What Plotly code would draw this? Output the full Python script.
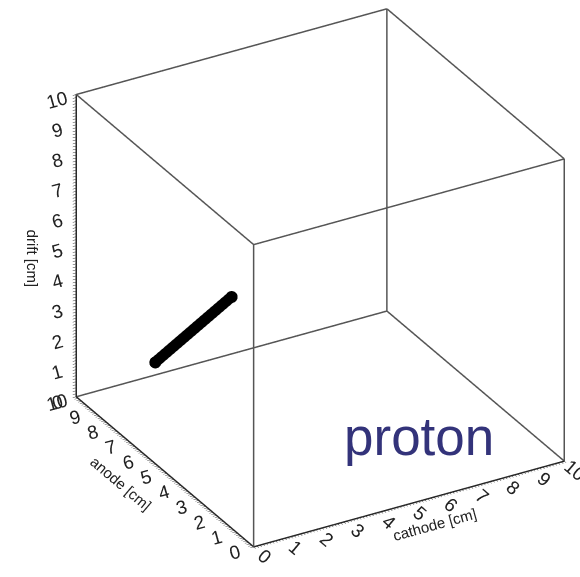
import plotly.graph_objects as go

# data
cathode_range = [0, 10]
anode_range = [0, 10]
drift_range = [0, 10]
track_cathode = [1.0, 1.0]
track_anode = [7.3, 3.0]
track_drift = [2.2, 6.5]
label = "proton"

# box edges from ranges
x0, x1 = cathode_range
y0, y1 = anode_range
z0, z1 = drift_range
corners = [(x, y, z) for x in (x0, x1) for y in (y0, y1) for z in (z0, z1)]
ex, ey, ez = [], [], []
for i, a in enumerate(corners):
    for b in corners[i + 1:]:
        if sum(1 for u, v in zip(a, b) if u != v) == 1:
            ex += [a[0], b[0], None]
            ey += [a[1], b[1], None]
            ez += [a[2], b[2], None]

tickvals = [i / 10 for i in range(0, 101)]
ticktext = [str(int(v)) if abs(v - round(v)) < 1e-9 else "" for v in tickvals]

fig = go.Figure()
fig.add_trace(go.Scatter3d(x=ex, y=ey, z=ez, mode="lines",
                           line=dict(color="#555555", width=3),
                           hoverinfo="skip", showlegend=False))
fig.add_trace(go.Scatter3d(x=track_cathode, y=track_anode, z=track_drift,
                           mode="lines+markers",
                           line=dict(color="black", width=22),
                           marker=dict(color="black", size=7),
                           showlegend=False))

tfont = dict(family="Liberation Sans", size=15, color="#222")
axcommon = dict(showbackground=False, showgrid=False, zeroline=False,
                showline=True, linecolor="#222", linewidth=3,
                ticks="outside", ticklen=4, tickcolor="#333", tickwidth=1,
                tickmode="array", tickvals=tickvals, ticktext=ticktext,
                tickfont=tfont, showspikes=False)
s = 1.24
cx, cy, cz = -0.100, 0.0366, -0.0324
dx, dy, dz = -0.434 * 2, -0.760 * 2, 0.483 * 2
fig.update_layout(
    width=580, height=577,
    margin=dict(l=0, r=0, t=0, b=0),
    paper_bgcolor="white",
    scene=dict(
        domain=dict(x=[0, 1.0], y=[0, 1.0]),
        xaxis=dict(range=cathode_range, title=dict(text="cathode [cm]", font=tfont), **axcommon),
        yaxis=dict(range=anode_range, title=dict(text="anode [cm]", font=tfont), **axcommon),
        zaxis=dict(range=drift_range, title=dict(text="drift [cm]", font=tfont), **axcommon),
        aspectmode="manual", aspectratio=dict(x=s, y=s, z=0.965 * s),
        camera=dict(eye=dict(x=cx + dx, y=cy + dy, z=cz + dz),
                    up=dict(x=0, y=0, z=1), center=dict(x=cx, y=cy, z=cz),
                    projection=dict(type="orthographic")),
    ),
    annotations=[dict(text=label, x=0.722, y=0.243, xref="paper", yref="paper",
                      xanchor="center", yanchor="middle", showarrow=False,
                      font=dict(family="Liberation Sans", size=53, color="#33337a"))],
)
fig.write_html("out.html")
